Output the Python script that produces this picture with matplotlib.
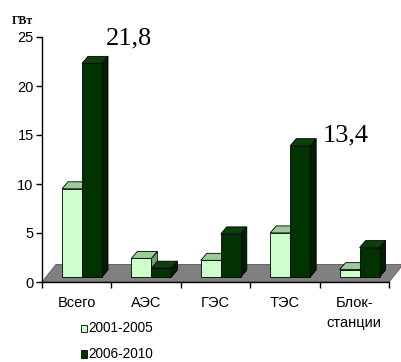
import matplotlib
matplotlib.use("Agg")
import matplotlib.pyplot as plt
from matplotlib.patches import Polygon, Rectangle

# Capacity commissioning, GW
categories = ["Всего", "АЭС", "ГЭС", "ТЭС", "Блок-\nстанции"]
series_names = ["2001-2005", "2006-2010"]
values_2001_2005 = [9.0, 1.9, 1.7, 4.5, 0.75]
values_2006_2010 = [21.8, 0.9, 4.4, 13.4, 3.0]
y_ticks = [0, 5, 10, 15, 20, 25]
unit_label = "ГВт"

# face colours: front, top, side
light = ("#ccffcc", "#99cc99", "#6f9f6f")
dark = ("#003300", "#0b3f0b", "#001f00")

W, H, DPI = 401, 362, 100
fig = plt.figure(figsize=(W / DPI, H / DPI), dpi=DPI)
fig.patch.set_facecolor("white")

# axes frame in pixel geometry
left_px, right_px, top_px, bottom_px = 42, 389, 37, 282
ax = fig.add_axes([left_px / W, 1 - bottom_px / H,
                   (right_px - left_px) / W, (bottom_px - top_px) / H])
n = len(categories)
ax.set_xlim(0, n)
ax.set_ylim(0, 25)
ax.patch.set_alpha(0)

px_x = (right_px - left_px) / n     # pixels per category
px_y = (bottom_px - top_px) / 25.0  # pixels per GW

# oblique depth settings (data units)
floor_dx, floor_dy = 14 / px_x, 17.5 / px_y
bar_dx, bar_dy = 6 / px_x, 7 / px_y
bar_w = 20 / px_x
bar_off = 20 / px_x
bar_base = 5 / px_y

# floor
floor = Polygon([(0, 0), (n, 0), (n + floor_dx, floor_dy), (floor_dx, floor_dy)],
                closed=True, facecolor="#808080", edgecolor="#555555",
                linewidth=0.6, clip_on=False, zorder=1)
ax.add_patch(floor)


def draw_box(x0, h, cols):
    y0 = bar_base
    y1 = bar_base + h
    x1 = x0 + bar_w
    kw = dict(edgecolor="black", linewidth=0.6, clip_on=False, zorder=3)
    side = Polygon([(x1, y0), (x1 + bar_dx, y0 + bar_dy),
                    (x1 + bar_dx, y1 + bar_dy), (x1, y1)],
                   closed=True, facecolor=cols[2], **kw)
    top = Polygon([(x0, y1), (x1, y1), (x1 + bar_dx, y1 + bar_dy),
                   (x0 + bar_dx, y1 + bar_dy)],
                  closed=True, facecolor=cols[1], **kw)
    front = Rectangle((x0, y0), bar_w, h, facecolor=cols[0], **kw)
    for p in (side, top, front):
        ax.add_patch(p)


for i in range(n):
    xs = i + bar_off
    draw_box(xs, values_2001_2005[i], light)
    draw_box(xs + bar_w, values_2006_2010[i], dark)

# value labels
ax.text(1.254, 24.2, "21,8", family="Liberation Serif",
        fontsize=19, ha="center", va="baseline", clip_on=False)
ax.text(4.38, 14.3, "13,4", family="Liberation Serif",
        fontsize=19, ha="center", va="baseline", clip_on=False)

# axes styling
for s in ("top", "right"):
    ax.spines[s].set_visible(False)
for s in ("left", "bottom"):
    ax.spines[s].set_linewidth(1.0)
    ax.spines[s].set_color("black")
    ax.spines[s].set_zorder(5)

narrow = ["Liberation Sans Narrow", "Liberation Sans", "DejaVu Sans"]
ax.set_yticks(y_ticks)
ax.set_yticklabels([str(t) for t in y_ticks], family=narrow, fontsize=10.5)
ax.tick_params(axis="y", direction="out", length=4, width=1.0, pad=2)
ax.set_xticks(range(n + 1))
ax.set_xticklabels([])
ax.tick_params(axis="x", direction="out", length=4, width=1.0)

for i, c in enumerate(categories):
    ax.text(i + 0.5, -1.45, c, family=narrow, fontsize=10.5, ha="center",
            va="top", linespacing=1.5, clip_on=False)

# unit caption
fig.text(22 / W, 1 - 20.5 / H, unit_label, family="Liberation Serif",
         fontweight="bold", fontsize=8.5, ha="center", va="center")

# legend
leg_cols = [light[0], dark[0]]
leg_y = [328.5, 354]
for name, col, yc in zip(series_names, leg_cols, leg_y):
    sq = Rectangle((80.5 / W, 1 - (yc + 3.5) / H), 6.5 / W, 7.5 / H,
                   transform=fig.transFigure, facecolor=col,
                   edgecolor="black", linewidth=0.6)
    fig.patches.append(sq)
    fig.text(88.5 / W, 1 - yc / H, name, family="Liberation Sans",
             fontsize=9.8, ha="left", va="center")

fig.savefig("out.png", dpi=DPI)
